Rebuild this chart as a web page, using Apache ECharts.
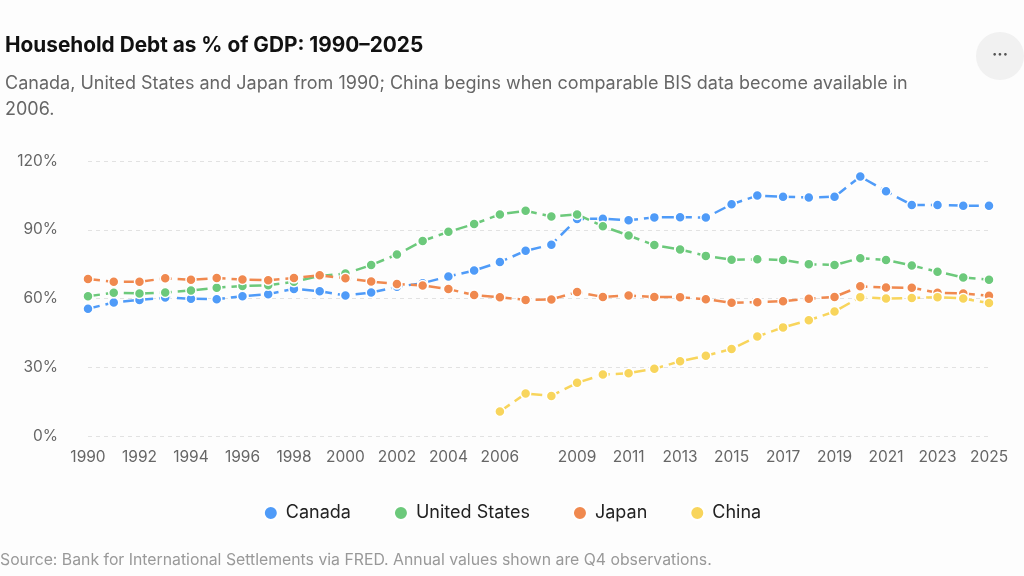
<!DOCTYPE html>
<html>
<head>
<meta charset="utf-8">
<title>Household Debt as % of GDP</title>
<script src="https://cdn.jsdelivr.net/npm/echarts@6/dist/echarts.min.js"></script>
<style>
    html, body { margin: 0; padding: 0; background: #fdfdfd; }
    #main { width: 1024px; height: 576px; }
</style>
</head>
<body>
<div id="main"></div>
<script>
// 数据
var years = []
for (var y = 1990; y <= 2025; y++) years.push(String(y))

var canada = [55.5, 58.3, 59.4, 60.4, 59.9, 59.7, 61.0, 61.9, 64.2, 63.2, 61.3, 62.6, 65.1, 66.7, 69.6, 72.2, 75.9, 80.8,
    83.5, 94.7, 94.8, 94.1, 95.4, 95.5, 95.3, 101.1, 104.9, 104.4, 104.1, 104.4, 113.2, 106.8, 100.8, 100.8, 100.5, 100.5]
var unitedStates = [61.0, 62.5, 62.2, 62.6, 63.5, 64.7, 65.5, 65.8, 67.3, 69.8, 70.9, 74.6, 79.2, 85.1, 89.1, 92.5, 96.7, 98.3,
    95.8, 96.7, 91.5, 87.5, 83.3, 81.4, 78.6, 76.9, 77.1, 76.8, 75.0, 74.6, 77.6, 76.8, 74.4, 71.7, 69.2, 68.2]
var japan = [68.5, 67.3, 67.3, 68.8, 68.2, 68.9, 68.3, 68.0, 68.9, 70.1, 68.8, 67.4, 66.3, 65.7, 64.1, 61.5, 60.5, 59.4,
    59.6, 62.8, 60.7, 61.3, 60.7, 60.6, 59.7, 58.1, 58.4, 58.8, 59.9, 60.7, 65.3, 64.8, 64.7, 62.5, 62.2, 61.2]
// 中国数据从2006年开始
var china = [null, null, null, null, null, null, null, null, null, null, null, null, null, null, null, null, 10.7, 18.5,
    17.5, 23.2, 26.8, 27.4, 29.3, 32.6, 35.0, 38.0, 43.4, 47.4, 50.5, 54.3, 60.6, 60.0, 60.2, 60.6, 60.0, 58.0]

var seriesNames = ['Canada', 'United States', 'Japan', 'China']
var colors = ['#4f9bf8', '#6cc97b', '#f0894f', '#f8d55c']
var yTicks = [0, 30, 60, 90, 120]

var fontFamily = 'Inter, "Noto Sans", sans-serif'

function makeSeries(name, data, color) {
    return {
        name: name,
        type: 'line',
        data: data,
        symbol: 'circle',
        symbolSize: 10,
        itemStyle: { color: color, borderColor: '#ffffff', borderWidth: 1.5 },
        lineStyle: { color: color, width: 2.5, type: [12, 6] },
        emphasis: { disabled: true },
    }
}

var chartDom = document.getElementById('main')
var myChart = echarts.init(chartDom)
var option = {
    backgroundColor: '#fdfdfd',
    animation: false,
    textStyle: { fontFamily: fontFamily },
    title: {
        text: 'Household Debt as % of GDP: 1990\u20132025',
        subtext: 'Canada, United States and Japan from 1990; China begins when comparable BIS data become available in\n2006.',
        left: 0,
        top: 30,
        itemGap: 15,
        textStyle: { fontSize: 20.8, fontWeight: 'bold', color: '#111111', fontFamily: fontFamily },
        subtextStyle: { fontSize: 18, color: '#666666', lineHeight: 26, fontFamily: fontFamily },
    },
    legend: {
        data: seriesNames,
        bottom: 49,
        left: 'center',
        itemGap: 42,
        itemWidth: 14,
        itemHeight: 14,
        icon: 'circle',
        textStyle: { fontSize: 18, color: '#222222', padding: [0, 0, 0, 3] },
    },
    grid: { left: 88, right: 35, top: 161, bottom: 140, containLabel: false },
    xAxis: {
        type: 'category',
        data: years,
        boundaryGap: false,
        axisLine: { show: false },
        axisTick: { show: false },
        axisLabel: {
            fontSize: 15.5,
            color: '#666666',
            margin: 13,
            interval: function (index, value) {
                var yr = Number(value)
                return (yr <= 2006 && yr % 2 === 0) || (yr >= 2009 && yr % 2 === 1)
            },
        },
    },
    yAxis: {
        type: 'value',
        min: yTicks[0],
        max: yTicks[yTicks.length - 1],
        interval: 30,
        axisLine: { show: false },
        axisTick: { show: false },
        axisLabel: { fontSize: 15.5, color: '#666666', margin: 30, formatter: '{value}%' },
        splitLine: { lineStyle: { color: '#e2e2e2', type: [4, 4], width: 1 } },
    },
    graphic: [
        {
            type: 'circle',
            shape: { cx: 1000, cy: 56, r: 24 },
            style: { fill: '#f1f1f1' },
        },
        {
            type: 'text',
            x: 1000,
            y: 55,
            style: { text: '\u00b7\u00b7\u00b7', fill: '#555555', font: 'bold 16px ' + fontFamily, align: 'center', verticalAlign: 'middle' },
        },
        {
            type: 'text',
            left: 0,
            top: 552,
            style: {
                text: 'Source: Bank for International Settlements via FRED. Annual values shown are Q4 observations.',
                fill: '#999999',
                font: '15.8px ' + fontFamily,
            },
        },
    ],
    series: [
        makeSeries(seriesNames[0], canada, colors[0]),
        makeSeries(seriesNames[1], unitedStates, colors[1]),
        makeSeries(seriesNames[2], japan, colors[2]),
        makeSeries(seriesNames[3], china, colors[3]),
    ],
}
option && myChart.setOption(option)
</script>
</body>
</html>
